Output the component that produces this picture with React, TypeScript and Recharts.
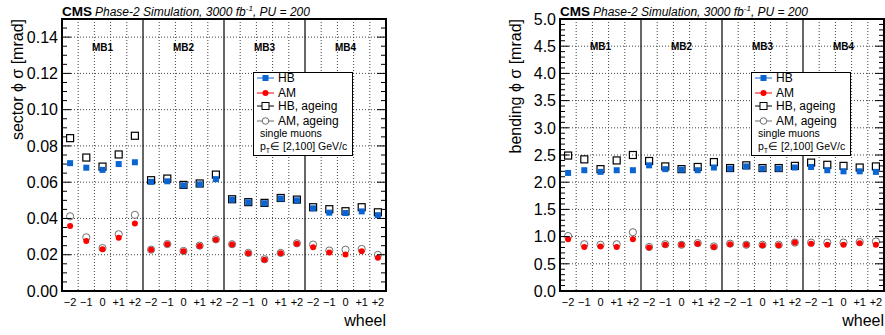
import React from 'react';
import { ScatterChart, Scatter, XAxis, YAxis, CartesianGrid, ReferenceLine, ReferenceArea, ReferenceDot } from 'recharts';

// wheel labels, repeated for each station
const wheelLabels = ['−2', '−1', '0', '+1', '+2'];
const stations = ['MB1', 'MB2', 'MB3', 'MB4'];
const binLabels = stations.flatMap(() => wheelLabels);

// sector phi resolution [mrad]
const sectorHB = [0.0705, 0.068, 0.0668, 0.07, 0.071, 0.0602, 0.0605, 0.0582, 0.0588, 0.0617, 0.0504, 0.0489, 0.0484, 0.051, 0.05, 0.0456, 0.0432, 0.043, 0.0439, 0.0418];
const sectorHBAgeing = [0.0843, 0.0736, 0.0686, 0.0753, 0.0856, 0.0611, 0.062, 0.0585, 0.0593, 0.0642, 0.0506, 0.049, 0.0486, 0.0513, 0.0504, 0.0462, 0.0451, 0.044, 0.0462, 0.0434];
const sectorAM = [0.0359, 0.0276, 0.023, 0.0293, 0.0372, 0.0227, 0.0258, 0.0219, 0.0248, 0.0283, 0.0256, 0.0208, 0.0173, 0.0208, 0.0261, 0.0241, 0.0212, 0.0201, 0.0219, 0.0184];
const sectorAMAgeing = [0.0412, 0.0296, 0.0237, 0.0313, 0.042, 0.0228, 0.0259, 0.0221, 0.025, 0.0285, 0.0258, 0.021, 0.0175, 0.021, 0.0263, 0.0256, 0.0223, 0.0228, 0.0232, 0.0199];

// bending phi resolution [mrad]
const bendingHB = [2.17, 2.22, 2.19, 2.22, 2.22, 2.31, 2.24, 2.23, 2.22, 2.27, 2.25, 2.29, 2.25, 2.25, 2.27, 2.28, 2.22, 2.2, 2.2, 2.19];
const bendingHBAgeing = [2.49, 2.42, 2.24, 2.4, 2.5, 2.39, 2.29, 2.24, 2.28, 2.37, 2.26, 2.31, 2.26, 2.26, 2.3, 2.36, 2.32, 2.3, 2.27, 2.29];
const bendingAM = [0.95, 0.81, 0.82, 0.81, 0.95, 0.8, 0.85, 0.85, 0.87, 0.81, 0.86, 0.85, 0.84, 0.84, 0.89, 0.87, 0.85, 0.85, 0.88, 0.85];
const bendingAMAgeing = [1.01, 0.86, 0.85, 0.86, 1.08, 0.81, 0.86, 0.85, 0.88, 0.82, 0.87, 0.85, 0.85, 0.85, 0.89, 0.89, 0.89, 0.89, 0.9, 0.91];

const FONT = '"Liberation Sans", Arial, Helvetica, sans-serif';
const BLUE = '#0a64d2';
const RED = '#ff0000';
const GRAY = '#6e6e6e';

// plot frame inside each chart (chart-local pixels)
const W = 440;
const H = 335;
const PL = 62;
const PR = 386;
const PT = 19;

const toPoints = (vals: number[]) => vals.map((y, i) => ({ x: i + 0.5, y }));

const FilledSquare = (p: any) => <rect x={p.cx - 3} y={p.cy - 3} width={6} height={6} fill={BLUE} />;
const OpenSquare = (p: any) => <rect x={p.cx - 3.5} y={p.cy - 3.5} width={7} height={7} fill="none" stroke="#000" strokeWidth={1.2} />;
const FilledCircle = (p: any) => <circle cx={p.cx} cy={p.cy} r={3} fill={RED} />;
const OpenCircle = (p: any) => <circle cx={p.cx} cy={p.cy} r={3.6} fill="none" stroke={GRAY} strokeWidth={1} />;

interface PanelProps {
  left: number;
  title: string;
  max: number;
  minorStep: number;
  majorEvery: number;
  decimals: number;
  mbY: number;
  hb: number[];
  hbAgeing: number[];
  am: number[];
  amAgeing: number[];
}

function LegendBox() {
  const rows = [
    { label: 'HB', color: BLUE, y: 5 },
    { label: 'AM', color: RED, y: 20 },
    { label: 'HB, ageing', color: '#000', y: 33 },
    { label: 'AM, ageing', color: GRAY, y: 48 },
  ];
  return (
    <div style={{ position: 'absolute', left: PL + 191, top: 72, width: 98, height: 82, border: '1px solid #000', background: '#fff', fontFamily: FONT }}>
      {rows.map((r, i) => (
        <div key={r.label} style={{ position: 'absolute', left: 2, top: r.y - 7, height: 14, display: 'flex', alignItems: 'center' }}>
          <svg width={20} height={14}>
            <line x1={1} x2={18} y1={7} y2={7} stroke={r.color} strokeWidth={1} />
            {i === 0 && <rect x={6.5} y={4} width={6} height={6} fill={BLUE} />}
            {i === 1 && <circle cx={9.5} cy={7} r={3} fill={RED} />}
            {i === 2 && <rect x={6} y={3.5} width={7} height={7} fill="#fff" stroke="#000" />}
            {i === 3 && <circle cx={9.5} cy={7} r={3.3} fill="#fff" stroke={GRAY} />}
          </svg>
          <span style={{ fontSize: 12, marginLeft: 2, whiteSpace: 'nowrap' }}>{r.label}</span>
        </div>
      ))}
      <div style={{ position: 'absolute', left: 6, top: 54, fontSize: 10.5, whiteSpace: 'nowrap' }}>single muons</div>
      <div style={{ position: 'absolute', left: 6, top: 67, fontSize: 10.5, whiteSpace: 'nowrap' }}>
        p<sub style={{ fontSize: 7 }}>T</sub>∈ [2,100] GeV/c
      </div>
    </div>
  );
}

function Panel({ left, title, max, minorStep, majorEvery, decimals, mbY, hb, hbAgeing, am, amAgeing }: PanelProps) {
  const nTicks = Math.round(max / minorStep);
  const yTicks = Array.from({ length: nTicks + 1 }, (_, k) => k * minorStep);
  const majors = yTicks.filter((_, k) => k % majorEvery === 0 && k > 0 && k < nTicks);
  const binEdges = Array.from({ length: 19 }, (_, k) => k + 1).filter((e) => e % 5 !== 0);

  const YTick = (p: any) => {
    const k = Math.round(p.payload.value / minorStep);
    const major = k % majorEvery === 0;
    const len = major ? 9 : 5;
    return (
      <g>
        <line x1={PL} x2={PL + len} y1={p.y} y2={p.y} stroke="#000" strokeWidth={1} />
        <line x1={PR} x2={PR - len} y1={p.y} y2={p.y} stroke="#000" strokeWidth={1} />
        {major && (
          <text x={p.x} y={p.y} dy="0.36em" textAnchor="end" fontSize={16} fontFamily={FONT} fill="#000">
            {p.payload.value.toFixed(decimals)}
          </text>
        )}
      </g>
    );
  };

  return (
    <div style={{ position: 'absolute', left, top: 0, width: W, height: H }}>
      <div style={{ position: 'absolute', left: PL, top: 1, fontFamily: FONT, whiteSpace: 'nowrap', lineHeight: '16px' }}>
        <span style={{ fontWeight: 'bold', fontSize: 13.5 }}>CMS</span>
        <span style={{ fontStyle: 'italic', fontSize: 12, marginLeft: 3 }}>
          Phase-2 Simulation, 3000 fb<sup style={{ fontSize: 8 }}>-1</sup>, PU = 200
        </span>
      </div>
      <ScatterChart width={W} height={H} margin={{ top: PT, right: W - PR, bottom: 14, left: 12 }}>
        <CartesianGrid stroke="#444" strokeDasharray="1 2" horizontalValues={majors} verticalValues={binEdges} />
        <XAxis
          type="number"
          dataKey="x"
          domain={[0, 20]}
          ticks={binLabels.map((_, i) => i + 0.5)}
          interval={0}
          tickFormatter={(v: number) => binLabels[Math.floor(v)]}
          tickLine={false}
          axisLine={false}
          tickSize={0}
          tickMargin={7}
          height={30}
          tick={{ fontSize: 11, fill: '#000', fontFamily: FONT }}
          allowDataOverflow
          label={() => (
            <text x={PR} y={326} textAnchor="end" fontSize={16} fontFamily={FONT} fill="#000">
              wheel
            </text>
          )}
        />
        <YAxis
          type="number"
          dataKey="y"
          domain={[0, max]}
          ticks={yTicks}
          interval={0}
          tickLine={false}
          axisLine={false}
          tickSize={0}
          tickMargin={4}
          width={50}
          allowDataOverflow
          tick={YTick}
          label={() => (
            <text x={17} y={PT} dy="0.36em" transform={`rotate(-90, 17, ${PT})`} textAnchor="end" fontSize={16} fontFamily={FONT} fill="#000">
              {title}
            </text>
          )}
        />
        {[5, 10, 15].map((x) => (
          <ReferenceLine key={x} x={x} stroke="#000" strokeWidth={1.2} />
        ))}
        {stations.map((s, i) => (
          <ReferenceDot
            key={s}
            x={i * 5 + 2.5}
            y={mbY}
            r={0}
            shape={(p: any) => (
              <text x={p.cx} y={p.cy} dy="0.36em" textAnchor="middle" fontSize={10} fontWeight="bold" fontFamily={FONT} fill="#000">
                {s}
              </text>
            )}
          />
        ))}
        <Scatter data={toPoints(hbAgeing)} shape={OpenSquare} isAnimationActive={false} />
        <Scatter data={toPoints(hb)} shape={FilledSquare} isAnimationActive={false} />
        <Scatter data={toPoints(amAgeing)} shape={OpenCircle} isAnimationActive={false} />
        <Scatter data={toPoints(am)} shape={FilledCircle} isAnimationActive={false} />
        <ReferenceArea x1={0} x2={20} y1={0} y2={max} fill="none" stroke="#000" strokeWidth={2} />
      </ScatterChart>
      <LegendBox />
    </div>
  );
}

export default function App() {
  return (
    <div style={{ position: 'absolute', left: 0, top: 0, width: 885, height: 335, overflow: 'hidden', background: '#fff' }}>
      <Panel
        left={0}
        title="sector ϕ σ [mrad]"
        max={0.15}
        minorStep={0.005}
        majorEvery={4}
        decimals={2}
        mbY={0.1344}
        hb={sectorHB}
        hbAgeing={sectorHBAgeing}
        am={sectorAM}
        amAgeing={sectorAMAgeing}
      />
      <Panel
        left={498}
        title="bending ϕ σ [mrad]"
        max={5}
        minorStep={0.1}
        majorEvery={5}
        decimals={1}
        mbY={4.5}
        hb={bendingHB}
        hbAgeing={bendingHBAgeing}
        am={bendingAM}
        amAgeing={bendingAMAgeing}
      />
    </div>
  );
}
